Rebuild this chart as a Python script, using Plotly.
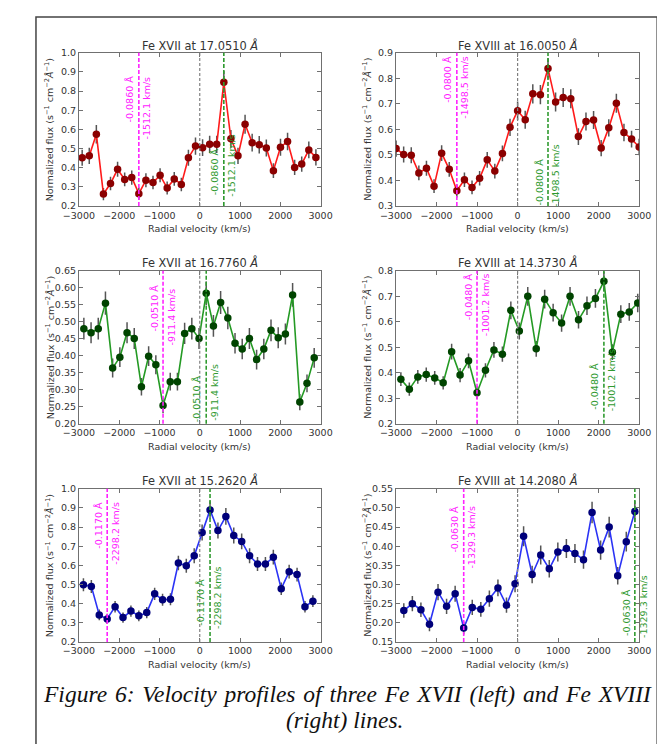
import plotly.graph_objects as go

# ---------------- data ----------------
titles = ["Fe XVII at 17.0510 <i>Å</i>", "Fe XVIII at 16.0050 <i>Å</i>",
          "Fe XVII at 16.7760 <i>Å</i>", "Fe XVIII at 14.3730 <i>Å</i>",
          "Fe XVII at 15.2620 <i>Å</i>", "Fe XVIII at 14.2080 <i>Å</i>"]

v1 = [-2918.7, -2742.9, -2567.1, -2391.2, -2215.4, -2039.6, -1863.8, -1687.9, -1512.1, -1336.3,
      -1160.5, -984.6, -808.8, -633.0, -457.2, -281.3, -105.5, 70.3, 246.1, 421.9,
      597.8, 773.6, 949.4, 1125.2, 1301.1, 1476.9, 1652.7, 1828.5, 2004.4, 2180.2,
      2356.0, 2531.8, 2707.7, 2883.5]
f1 = [0.452, 0.462, 0.575, 0.263, 0.318, 0.392, 0.339, 0.349, 0.265, 0.335,
      0.323, 0.361, 0.294, 0.342, 0.313, 0.452, 0.513, 0.505, 0.522, 0.522,
      0.846, 0.551, 0.462, 0.627, 0.531, 0.520, 0.503, 0.385, 0.507, 0.537,
      0.402, 0.419, 0.493, 0.454]
e1 = [0.042, 0.043, 0.048, 0.032, 0.035, 0.039, 0.036, 0.037, 0.032, 0.036,
      0.035, 0.037, 0.034, 0.036, 0.035, 0.042, 0.045, 0.044, 0.045, 0.045,
      0.058, 0.046, 0.043, 0.050, 0.046, 0.045, 0.044, 0.039, 0.044, 0.046,
      0.040, 0.040, 0.044, 0.042]

v2 = [-2997.0, -2809.7, -2622.4, -2435.1, -2247.8, -2060.5, -1873.2, -1685.8, -1498.5, -1311.2,
      -1123.9, -936.6, -749.3, -562.0, -374.7, -187.4, 0.0, 187.3, 374.6, 561.9,
      749.3, 936.6, 1123.9, 1311.2, 1498.5, 1685.8, 1873.1, 2060.4, 2247.8, 2435.1,
      2622.4, 2809.7, 2997.0]
f2 = [0.525, 0.502, 0.499, 0.430, 0.448, 0.378, 0.507, 0.444, 0.360, 0.403,
      0.373, 0.409, 0.481, 0.437, 0.506, 0.608, 0.673, 0.638, 0.739, 0.736,
      0.838, 0.707, 0.725, 0.720, 0.572, 0.631, 0.637, 0.527, 0.606, 0.702,
      0.588, 0.562, 0.531]
e2 = [0.032, 0.031, 0.031, 0.029, 0.029, 0.027, 0.031, 0.029, 0.026, 0.028,
      0.027, 0.028, 0.031, 0.029, 0.031, 0.034, 0.036, 0.035, 0.038, 0.038,
      0.040, 0.037, 0.037, 0.037, 0.033, 0.035, 0.035, 0.032, 0.034, 0.037,
      0.034, 0.033, 0.032]

v3 = [-2877.1, -2698.4, -2519.7, -2341.0, -2162.3, -1983.6, -1804.9, -1626.2, -1447.5, -1268.8,
      -1090.1, -911.4, -732.7, -554.0, -375.3, -196.6, -17.9, 160.8, 339.5, 518.2,
      696.9, 875.6, 1054.3, 1233.0, 1411.7, 1590.4, 1769.1, 1947.8, 2126.5, 2305.2,
      2483.9, 2662.6, 2841.3]
f3 = [0.480, 0.468, 0.480, 0.555, 0.364, 0.396, 0.468, 0.451, 0.309, 0.399,
      0.374, 0.254, 0.324, 0.324, 0.466, 0.480, 0.451, 0.584, 0.488, 0.557,
      0.511, 0.437, 0.420, 0.451, 0.389, 0.420, 0.475, 0.453, 0.464, 0.579,
      0.264, 0.319, 0.394]
e3 = [0.032, 0.031, 0.032, 0.034, 0.028, 0.029, 0.031, 0.031, 0.026, 0.029,
      0.028, 0.023, 0.026, 0.026, 0.031, 0.032, 0.031, 0.035, 0.032, 0.034,
      0.033, 0.030, 0.030, 0.031, 0.029, 0.030, 0.032, 0.031, 0.031, 0.035,
      0.024, 0.026, 0.029]

v4 = [-2878.4, -2669.8, -2461.3, -2252.7, -2044.1, -1835.5, -1626.9, -1418.4, -1209.8, -1001.2,
      -792.6, -584.0, -375.5, -166.9, 41.7, 250.3, 458.9, 667.4, 876.0, 1084.6,
      1293.2, 1501.8, 1710.3, 1918.9, 2127.5, 2336.1, 2544.7, 2753.2, 2961.8]
f4 = [0.375, 0.336, 0.384, 0.393, 0.380, 0.361, 0.483, 0.391, 0.447, 0.322,
      0.410, 0.490, 0.473, 0.645, 0.564, 0.700, 0.494, 0.689, 0.636, 0.595,
      0.700, 0.608, 0.663, 0.692, 0.759, 0.481, 0.630, 0.639, 0.674]
e4 = [0.027, 0.026, 0.027, 0.028, 0.027, 0.026, 0.031, 0.028, 0.029, 0.025,
      0.028, 0.031, 0.030, 0.035, 0.033, 0.037, 0.031, 0.037, 0.035, 0.034,
      0.037, 0.034, 0.036, 0.037, 0.038, 0.031, 0.035, 0.035, 0.036]

v5 = [-2887.5, -2691.1, -2494.6, -2298.2, -2101.8, -1905.4, -1708.9, -1512.5, -1316.1, -1119.6,
      -923.2, -726.8, -530.4, -333.9, -137.5, 58.9, 255.4, 451.8, 648.2, 844.6,
      1041.1, 1237.5, 1433.9, 1630.4, 1826.8, 2023.2, 2219.6, 2416.1, 2612.5, 2808.9]
f5 = [0.499, 0.490, 0.341, 0.320, 0.384, 0.327, 0.361, 0.336, 0.353, 0.451,
      0.420, 0.423, 0.612, 0.598, 0.650, 0.772, 0.890, 0.782, 0.856, 0.756,
      0.725, 0.650, 0.607, 0.607, 0.643, 0.478, 0.567, 0.552, 0.384, 0.413]
e5 = [0.034, 0.034, 0.028, 0.027, 0.030, 0.027, 0.029, 0.028, 0.029, 0.032,
      0.031, 0.031, 0.038, 0.037, 0.039, 0.042, 0.045, 0.042, 0.044, 0.042,
      0.041, 0.039, 0.037, 0.037, 0.038, 0.033, 0.036, 0.036, 0.030, 0.031]

v6 = [-2806.3, -2595.3, -2384.3, -2173.3, -1962.3, -1751.3, -1540.3, -1329.3, -1118.3, -907.3,
      -696.3, -485.3, -274.3, -63.3, 147.7, 358.7, 569.7, 780.7, 991.7, 1202.7,
      1413.7, 1624.7, 1835.7, 2046.7, 2257.7, 2468.7, 2679.7, 2890.7]
f6 = [0.232, 0.250, 0.234, 0.196, 0.280, 0.243, 0.276, 0.186, 0.240, 0.235,
      0.263, 0.291, 0.246, 0.302, 0.426, 0.326, 0.377, 0.341, 0.385, 0.394,
      0.381, 0.365, 0.488, 0.390, 0.450, 0.323, 0.412, 0.491]
e6 = [0.019, 0.020, 0.019, 0.018, 0.021, 0.020, 0.021, 0.017, 0.020, 0.019,
      0.021, 0.022, 0.020, 0.022, 0.026, 0.023, 0.025, 0.023, 0.025, 0.025,
      0.025, 0.024, 0.028, 0.025, 0.027, 0.023, 0.026, 0.028]

# velocity of the minimum (magenta) and maximum (green) markers
v_min = [-1512.1, -1498.5, -911.4, -1001.2, -2298.2, -1329.3]
v_max = [597.8, 749.3, 160.8, 2127.5, 255.4, 2890.7]
shift_A = ["-0.0860 Å", "-0.0800 Å", "-0.0510 Å", "-0.0480 Å", "-0.1170 Å", "-0.0630 Å"]
shift_kms = ["-1512.1 km/s", "-1498.5 km/s", "-911.4 km/s", "-1001.2 km/s", "-2298.2 km/s", "-1329.3 km/s"]

x_ticks = [-3000, -2000, -1000, 0, 1000, 2000, 3000]
y_ranges = [[0.2, 1.0], [0.3, 0.9], [0.2, 0.65], [0.2, 0.8], [0.2, 1.0], [0.15, 0.55]]
y_dticks = [0.1, 0.1, 0.05, 0.1, 0.1, 0.05]
y_formats = [".1f", ".1f", ".2f", ".1f", ".1f", ".2f"]

caption_words_1 = ["Figure", "6:", "Velocity", "profiles", "of", "three", "Fe", "XVII", "(left)", "and", "Fe", "XVIII"]
caption_line_2 = "(right) lines."

V = [v1, v2, v3, v4, v5, v6]
F = [f1, f2, f3, f4, f5, f6]
E = [e1, e2, e3, e4, e5, e6]

# ---------------- style / layout ----------------
W, H = 665, 744
line_cols = ["#ff1a1a", "#ff1a1a", "#249a24", "#249a24", "#2b33f5", "#2b33f5"]
mark_cols = ["#8b0000", "#8b0000", "#004400", "#004400", "#00007a", "#00007a"]
MAG = "#ff22ff"
GRN = "#2f9a2f"
TXT = "#333333"
AX = "#707070"
FONT = "DejaVu Sans"

xdom = [[0.0862, 0.4656], [0.5839, 0.9659]]
ydom = [[0.7379, 0.9472], [0.4409, 0.6496], [0.1434, 0.3522]]
title_y = [1 - 32 / H, 1 - 252.7 / H, 1 - 474 / H]
xlab_y = [1 - 218 / H, 1 - 439 / H, 1 - 660 / H]
ylab_x = [27 / W, 358.5 / W]

# label placements (axis-domain fractions): magenta tops, green bottoms
mag_top = [[0.867, 0.860], [0.995, 0.995], [0.921, 0.895], [0.994, 0.994], [0.927, 0.927], [0.905, 0.905]]
grn_bot = [[0.060, 0.050], [-0.012, -0.022], [-0.004, 0.006], [0.082, 0.071], [0.090, 0.068], [0.028, 0.015]]

fig = go.Figure()
annotations = []
shapes = []
layout_axes = {}

for i in range(6):
    r, c = i // 2, i % 2
    n = i + 1
    xa = "x" if n == 1 else f"x{n}"
    ya = "y" if n == 1 else f"y{n}"

    fig.add_trace(go.Scatter(
        x=V[i], y=F[i], mode="lines+markers", xaxis=xa, yaxis=ya,
        line=dict(color=line_cols[i], width=1.6),
        marker=dict(color=mark_cols[i], size=7.5, line=dict(width=0)),
        error_y=dict(type="data", array=E[i], color="#555555", thickness=1.5, width=0),
        showlegend=False, hoverinfo="skip"))

    common = dict(showline=True, linecolor=AX, linewidth=1, mirror="ticks",
                  ticks="inside", ticklen=4, tickcolor=AX, tickwidth=1,
                  showgrid=False, zeroline=False,
                  tickfont=dict(family=FONT, size=9.5, color=TXT))
    layout_axes["xaxis" if n == 1 else f"xaxis{n}"] = dict(
        domain=xdom[c], anchor=ya, range=[-3000, 3000], tickvals=x_ticks, **common)
    layout_axes["yaxis" if n == 1 else f"yaxis{n}"] = dict(
        domain=ydom[r], anchor=xa, range=y_ranges[i], dtick=y_dticks[i],
        tick0=y_ranges[i][0], tickformat=y_formats[i], **common)

    # vertical dashed lines
    for xv, col, w, d in [(0, "#808080", 1.2, "3px,2px"), (v_min[i], MAG, 1.6, "4px,2px"),
                          (v_max[i], GRN, 1.6, "4px,2px")]:
        shapes.append(dict(type="line", xref=xa, yref=f"{ya} domain", x0=xv, x1=xv, y0=0, y1=1,
                           line=dict(color=col, width=w, dash=d), layer="above"))

    # rotated labels
    for txt, dx, yy in [(shift_A[i], -9, mag_top[i][0]), (shift_kms[i], 8, mag_top[i][1])]:
        annotations.append(dict(text=txt, x=v_min[i], xref=xa, y=yy, yref=f"{ya} domain",
                                xanchor="center", yanchor="top", textangle=-90, xshift=dx,
                                showarrow=False, font=dict(family=FONT, size=9.5, color=MAG)))
    for txt, dx, yy in [(shift_A[i], -9, grn_bot[i][0]), (shift_kms[i], 8, grn_bot[i][1])]:
        annotations.append(dict(text=txt, x=v_max[i], xref=xa, y=yy, yref=f"{ya} domain",
                                xanchor="center", yanchor="bottom", textangle=-90, xshift=dx,
                                showarrow=False, font=dict(family=FONT, size=9.5, color=GRN)))

    # titles and axis labels
    xc = (xdom[c][0] + xdom[c][1]) / 2
    yc = (ydom[r][0] + ydom[r][1]) / 2
    annotations.append(dict(text=titles[i], x=xc, y=title_y[r], xref="paper", yref="paper",
                            xanchor="center", yanchor="middle", showarrow=False,
                            font=dict(family=FONT, size=11.4, color=TXT)))
    annotations.append(dict(text="Radial velocity (km/s)", x=xc, y=xlab_y[r], xref="paper", yref="paper",
                            xanchor="center", yanchor="middle", showarrow=False,
                            font=dict(family=FONT, size=9.5, color=TXT)))
    annotations.append(dict(text="Normalized flux (s<sup>−1</sup> cm<sup>−2</sup><i>Å</i><sup>−1</sup>)",
                            x=ylab_x[c], y=yc, xref="paper", yref="paper", textangle=-90,
                            xanchor="center", yanchor="middle", showarrow=False,
                            font=dict(family=FONT, size=9.5, color=TXT)))

# caption (first line justified: slightly widened word gaps)
gap = " \u200a"
annotations.append(dict(text="<i>" + gap.join(caption_words_1) + "</i>",
                        x=338 / W, y=1 - 690 / H, xref="paper", yref="paper", xanchor="center",
                        yanchor="middle", showarrow=False,
                        font=dict(family="Liberation Serif", size=23.5, color="#111111")))
annotations.append(dict(text="<i>" + caption_line_2 + "</i>",
                        x=335 / W, y=1 - 717 / H, xref="paper", yref="paper", xanchor="center",
                        yanchor="middle", showarrow=False,
                        font=dict(family="Liberation Serif", size=23.5, color="#111111")))

# page border
shapes.append(dict(type="rect", xref="paper", yref="paper", x0=12.5 / W, x1=661 / W,
                   y0=-0.05, y1=1 - 3 / H, line=dict(color="#444444", width=1.5), layer="below"))

fig.update_layout(width=W, height=H, margin=dict(l=0, r=0, t=0, b=0),
                  paper_bgcolor="white", plot_bgcolor="white",
                  annotations=annotations, shapes=shapes, **layout_axes)

fig.write_html("out.html")
